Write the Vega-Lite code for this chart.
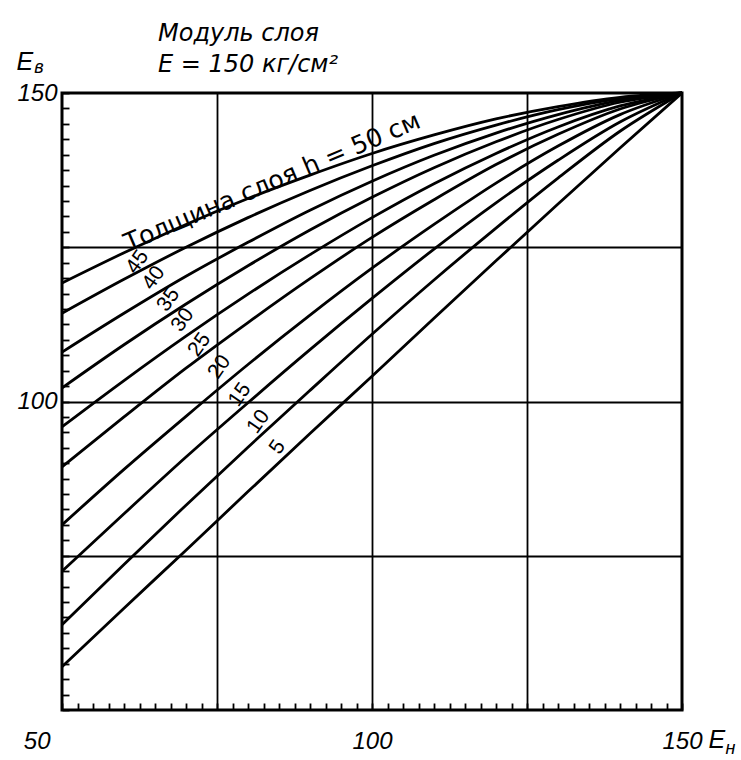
{
  "$schema": "https://vega.github.io/schema/vega-lite/v6.json",
  "width": 620,
  "height": 617,
  "autosize": {"type": "none"},
  "padding": {"left": 62, "top": 93, "right": 59, "bottom": 50},
  "background": "white",
  "config": {
    "view": {"stroke": "black", "strokeWidth": 3},
    "axis": {"domain": false}
  },
  "title": {
    "text": ["Модуль слоя", "E = 150 кг/см²"],
    "anchor": "start",
    "frame": "group",
    "align": "left",
    "dx": 96,
    "offset": -27,
    "font": "DejaVu Sans",
    "fontStyle": "italic",
    "fontWeight": "normal",
    "fontSize": 24,
    "lineHeight": 31,
    "color": "black"
  },
  "datasets": {
    "curves": [
      {"h": 50, "x": 50, "y": 119.2}, {"h": 50, "x": 60, "y": 124.1}, {"h": 50, "x": 70, "y": 128.7}, {"h": 50, "x": 80, "y": 132.9}, {"h": 50, "x": 90, "y": 136.7}, {"h": 50, "x": 100, "y": 140.2}, {"h": 50, "x": 110, "y": 143.2}, {"h": 50, "x": 120, "y": 145.8}, {"h": 50, "x": 130, "y": 147.8}, {"h": 50, "x": 140, "y": 149.3}, {"h": 50, "x": 150, "y": 150},
      {"h": 45, "x": 50, "y": 114.3}, {"h": 45, "x": 60, "y": 119.8}, {"h": 45, "x": 70, "y": 125.0}, {"h": 45, "x": 80, "y": 129.8}, {"h": 45, "x": 90, "y": 134.2}, {"h": 45, "x": 100, "y": 138.2}, {"h": 45, "x": 110, "y": 141.8}, {"h": 45, "x": 120, "y": 144.8}, {"h": 45, "x": 130, "y": 147.3}, {"h": 45, "x": 140, "y": 149.1}, {"h": 45, "x": 150, "y": 150},
      {"h": 40, "x": 50, "y": 108.0}, {"h": 40, "x": 60, "y": 114.3}, {"h": 40, "x": 70, "y": 120.3}, {"h": 40, "x": 80, "y": 125.8}, {"h": 40, "x": 90, "y": 131.0}, {"h": 40, "x": 100, "y": 135.7}, {"h": 40, "x": 110, "y": 139.9}, {"h": 40, "x": 120, "y": 143.5}, {"h": 40, "x": 130, "y": 146.5}, {"h": 40, "x": 140, "y": 148.8}, {"h": 40, "x": 150, "y": 150},
      {"h": 35, "x": 50, "y": 102.2}, {"h": 35, "x": 60, "y": 109.2}, {"h": 35, "x": 70, "y": 115.8}, {"h": 35, "x": 80, "y": 122.0}, {"h": 35, "x": 90, "y": 127.8}, {"h": 35, "x": 100, "y": 133.1}, {"h": 35, "x": 110, "y": 137.9}, {"h": 35, "x": 120, "y": 142.1}, {"h": 35, "x": 130, "y": 145.7}, {"h": 35, "x": 140, "y": 148.5}, {"h": 35, "x": 150, "y": 150},
      {"h": 30, "x": 50, "y": 95.9}, {"h": 30, "x": 60, "y": 103.4}, {"h": 30, "x": 70, "y": 110.6}, {"h": 30, "x": 80, "y": 117.4}, {"h": 30, "x": 90, "y": 123.8}, {"h": 30, "x": 100, "y": 129.8}, {"h": 30, "x": 110, "y": 135.3}, {"h": 30, "x": 120, "y": 140.2}, {"h": 30, "x": 130, "y": 144.5}, {"h": 30, "x": 140, "y": 147.9}, {"h": 30, "x": 150, "y": 150},
      {"h": 25, "x": 50, "y": 89.4}, {"h": 25, "x": 60, "y": 97.5}, {"h": 25, "x": 70, "y": 105.4}, {"h": 25, "x": 80, "y": 112.8}, {"h": 25, "x": 90, "y": 119.9}, {"h": 25, "x": 100, "y": 126.6}, {"h": 25, "x": 110, "y": 132.7}, {"h": 25, "x": 120, "y": 138.4}, {"h": 25, "x": 130, "y": 143.3}, {"h": 25, "x": 140, "y": 147.4}, {"h": 25, "x": 150, "y": 150},
      {"h": 20, "x": 50, "y": 80.0}, {"h": 20, "x": 60, "y": 89.0}, {"h": 20, "x": 70, "y": 97.6}, {"h": 20, "x": 80, "y": 106.0}, {"h": 20, "x": 90, "y": 114.0}, {"h": 20, "x": 100, "y": 121.6}, {"h": 20, "x": 110, "y": 128.7}, {"h": 20, "x": 120, "y": 135.4}, {"h": 20, "x": 130, "y": 141.4}, {"h": 20, "x": 140, "y": 146.5}, {"h": 20, "x": 150, "y": 150},
      {"h": 15, "x": 50, "y": 72.5}, {"h": 15, "x": 60, "y": 81.8}, {"h": 15, "x": 70, "y": 91.0}, {"h": 15, "x": 80, "y": 99.8}, {"h": 15, "x": 90, "y": 108.4}, {"h": 15, "x": 100, "y": 116.7}, {"h": 15, "x": 110, "y": 124.7}, {"h": 15, "x": 120, "y": 132.2}, {"h": 15, "x": 130, "y": 139.1}, {"h": 15, "x": 140, "y": 145.3}, {"h": 15, "x": 150, "y": 150},
      {"h": 10, "x": 50, "y": 63.8}, {"h": 10, "x": 60, "y": 73.6}, {"h": 10, "x": 70, "y": 83.2}, {"h": 10, "x": 80, "y": 92.6}, {"h": 10, "x": 90, "y": 101.8}, {"h": 10, "x": 100, "y": 110.9}, {"h": 10, "x": 110, "y": 119.7}, {"h": 10, "x": 120, "y": 128.1}, {"h": 10, "x": 130, "y": 136.2}, {"h": 10, "x": 140, "y": 143.8}, {"h": 10, "x": 150, "y": 150},
      {"h": 5, "x": 50, "y": 57.0}, {"h": 5, "x": 60, "y": 66.5}, {"h": 5, "x": 70, "y": 75.9}, {"h": 5, "x": 80, "y": 85.4}, {"h": 5, "x": 90, "y": 94.8}, {"h": 5, "x": 100, "y": 104.1}, {"h": 5, "x": 110, "y": 113.5}, {"h": 5, "x": 120, "y": 122.8}, {"h": 5, "x": 130, "y": 132.0}, {"h": 5, "x": 140, "y": 141.1}, {"h": 5, "x": 150, "y": 150}
    ],
    "numbers": [
      {"t": "45", "x": 62.2, "y": 122.6},
      {"t": "40", "x": 64.8, "y": 120.0},
      {"t": "35", "x": 67.2, "y": 116.5},
      {"t": "30", "x": 69.5, "y": 113.2},
      {"t": "25", "x": 72.2, "y": 109.2},
      {"t": "20", "x": 75.4, "y": 105.6},
      {"t": "15", "x": 78.7, "y": 101.1},
      {"t": "10", "x": 81.7, "y": 96.7},
      {"t": "5", "x": 84.8, "y": 92.6}
    ],
    "heading": [{"t": "Толщина слоя  h = 50 см", "x": 83.9, "y": 135.6}],
    "letters": [
      {"t": "E", "x": 44.0, "y": 155.0},
      {"t": "E", "x": 155.6, "y": 45.1}
    ],
    "subs": [
      {"t": "в", "x": 46.3, "y": 154.0},
      {"t": "н", "x": 157.8, "y": 43.6}
    ]
  },
  "resolve": {"axis": {"x": "independent", "y": "independent"}},
  "layer": [
    {
      "data": {"name": "curves"},
      "mark": {"type": "line", "color": "black", "strokeWidth": 2.8, "interpolate": "monotone"},
      "encoding": {
        "x": {
          "field": "x", "type": "quantitative",
          "scale": {"domain": [50, 150], "nice": false, "zero": false},
          "axis": {
            "title": null,
            "values": [50, 52.5, 55, 57.5, 60, 62.5, 65, 67.5, 70, 72.5, 75, 77.5, 80, 82.5, 85, 87.5, 90, 92.5, 95, 97.5, 100, 102.5, 105, 107.5, 110, 112.5, 115, 117.5, 120, 122.5, 125, 127.5, 130, 132.5, 135, 137.5, 140, 142.5, 145, 147.5, 150],
            "grid": true,
            "gridColor": "black",
            "gridWidth": 1.8,
            "gridOpacity": {"condition": {"test": "datum.value == 75 || datum.value == 100 || datum.value == 125", "value": 1}, "value": 0},
            "ticks": true,
            "tickSize": -7,
            "tickColor": "black",
            "tickWidth": 1.8,
            "labelExpr": "datum.value == 50 || datum.value == 100 || datum.value == 150 ? datum.label : ''",
            "labelAlign": {"condition": {"test": "datum.value == 50", "value": "right"}, "value": "center"},
            "labelOffset": {"condition": {"test": "datum.value == 50", "value": -12}, "value": 0},
            "labelFont": "Liberation Sans",
            "labelFontStyle": "italic",
            "labelFontSize": 24,
            "labelColor": "black",
            "labelPadding": 26,
            "labelFlush": false,
            "labelOverlap": false
          }
        },
        "y": {
          "field": "y", "type": "quantitative",
          "scale": {"domain": [50, 150], "nice": false, "zero": false},
          "axis": {
            "title": null,
            "values": [50, 52.5, 55, 57.5, 60, 62.5, 65, 67.5, 70, 72.5, 75, 77.5, 80, 82.5, 85, 87.5, 90, 92.5, 95, 97.5, 100, 102.5, 105, 107.5, 110, 112.5, 115, 117.5, 120, 122.5, 125, 127.5, 130, 132.5, 135, 137.5, 140, 142.5, 145, 147.5, 150],
            "grid": true,
            "gridColor": "black",
            "gridWidth": 1.8,
            "gridOpacity": {"condition": {"test": "datum.value == 75 || datum.value == 100 || datum.value == 125", "value": 1}, "value": 0},
            "ticks": true,
            "tickSize": -7,
            "tickColor": "black",
            "tickWidth": 1.8,
            "labelExpr": "datum.value == 100 || datum.value == 150 ? datum.label : ''",
            "labelFont": "Liberation Sans",
            "labelFontStyle": "italic",
            "labelFontSize": 24,
            "labelColor": "black",
            "labelPadding": 12,
            "labelFlush": false,
            "labelOverlap": false
          }
        },
        "detail": {"field": "h", "type": "nominal"}
      }
    },
    {
      "data": {"name": "numbers"},
      "mark": {"type": "text", "angle": 305, "font": "Liberation Sans", "fontSize": 21, "color": "black", "align": "center", "baseline": "middle"},
      "encoding": {
        "x": {"field": "x", "type": "quantitative", "axis": null},
        "y": {"field": "y", "type": "quantitative", "axis": null},
        "text": {"field": "t"}
      }
    },
    {
      "data": {"name": "heading"},
      "mark": {"type": "text", "angle": 337, "font": "DejaVu Sans", "fontSize": 25, "color": "black", "align": "center", "baseline": "middle"},
      "encoding": {
        "x": {"field": "x", "type": "quantitative", "axis": null},
        "y": {"field": "y", "type": "quantitative", "axis": null},
        "text": {"field": "t"}
      }
    },
    {
      "data": {"name": "letters"},
      "mark": {"type": "text", "font": "Liberation Sans", "fontStyle": "italic", "fontSize": 25, "color": "black", "align": "center", "baseline": "middle"},
      "encoding": {
        "x": {"field": "x", "type": "quantitative", "axis": null},
        "y": {"field": "y", "type": "quantitative", "axis": null},
        "text": {"field": "t"}
      }
    },
    {
      "data": {"name": "subs"},
      "mark": {"type": "text", "font": "Liberation Sans", "fontStyle": "italic", "fontSize": 18, "color": "black", "align": "center", "baseline": "middle"},
      "encoding": {
        "x": {"field": "x", "type": "quantitative", "axis": null},
        "y": {"field": "y", "type": "quantitative", "axis": null},
        "text": {"field": "t"}
      }
    }
  ]
}
